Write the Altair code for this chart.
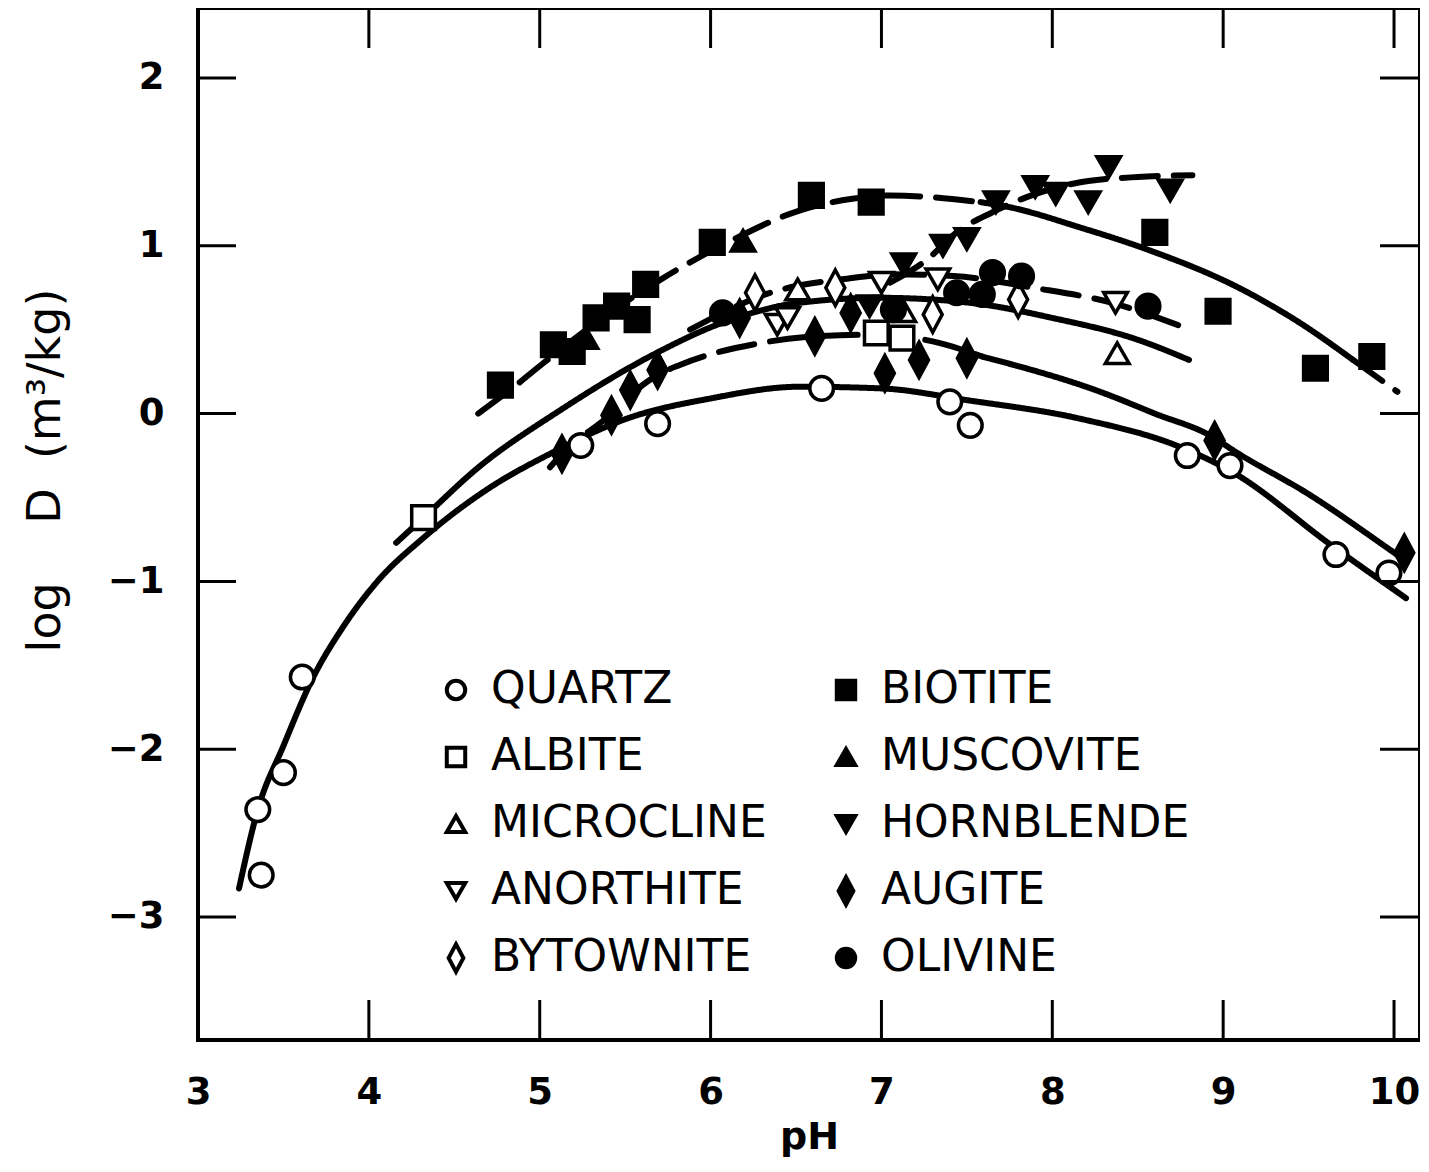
import altair as alt
import pandas as pd

# ---------------- measured points ----------------
quartz_ph = [3.35, 3.37, 3.50, 3.61, 5.24, 5.69, 6.65, 7.40, 7.52, 8.79, 9.04, 9.66, 9.97]
quartz_logd = [-2.36, -2.75, -2.14, -1.57, -0.19, -0.06, 0.15, 0.07, -0.07, -0.25, -0.31, -0.84, -0.95]
biotite_ph = [4.77, 5.08, 5.19, 5.33, 5.45, 5.57, 5.62, 6.01, 6.59, 6.94, 8.60, 8.97, 9.54, 9.87]
biotite_logd = [0.17, 0.41, 0.37, 0.57, 0.64, 0.56, 0.77, 1.02, 1.30, 1.26, 1.08, 0.61, 0.27, 0.34]
albite_ph = [4.32, 6.97, 7.12]
albite_logd = [-0.62, 0.48, 0.45]
muscovite_ph = [5.27, 6.19]
muscovite_logd = [0.45, 1.03]
microcline_ph = [6.51, 7.13, 8.38]
microcline_logd = [0.74, 0.61, 0.36]
hornblende_ph = [6.93, 7.13, 7.36, 7.50, 7.67, 7.90, 8.02, 8.21, 8.33, 8.69]
hornblende_logd = [0.64, 0.89, 1.00, 1.04, 1.26, 1.35, 1.31, 1.26, 1.47, 1.33]
anorthite_ph = [6.39, 6.45, 7.00, 7.33, 8.37]
anorthite_logd = [0.53, 0.57, 0.78, 0.80, 0.66]
augite_ph = [5.13, 5.42, 5.53, 5.69, 6.17, 6.61, 6.82, 7.02, 7.22, 7.50, 8.95, 10.06]
augite_logd = [-0.24, -0.01, 0.14, 0.26, 0.57, 0.46, 0.60, 0.24, 0.32, 0.33, -0.16, -0.83]
bytownite_ph = [6.26, 6.73, 7.30, 7.80]
bytownite_logd = [0.72, 0.75, 0.59, 0.68]
olivine_ph = [6.07, 7.07, 7.44, 7.59, 7.65, 7.82, 8.56]
olivine_logd = [0.60, 0.62, 0.72, 0.71, 0.84, 0.82, 0.64]

# legend order (first column, then second column)
minerals = ["QUARTZ", "ALBITE", "MICROCLINE", "ANORTHITE", "BYTOWNITE",
            "BIOTITE", "MUSCOVITE", "HORNBLENDE", "AUGITE", "OLIVINE"]

# ---------------- fitted curves ----------------
quartz_curve_ph = [3.24, 3.35, 3.50, 3.67, 3.85, 4.05, 4.32, 4.71, 5.06, 5.51, 6.00, 6.52, 7.00, 7.50, 8.16, 8.75, 9.04, 9.64, 10.07]
quartz_curve_logd = [-2.83, -2.36, -1.98, -1.58, -1.27, -1.00, -0.74, -0.44, -0.24, -0.03, 0.09, 0.16, 0.15, 0.08, -0.03, -0.20, -0.34, -0.79, -1.10]
albite_curve_ph = [4.16, 4.32, 4.63, 5.12, 5.70, 6.04, 6.52, 6.99, 7.52, 8.00, 8.50, 8.80]
albite_curve_logd = [-0.77, -0.62, -0.33, 0.02, 0.37, 0.53, 0.66, 0.69, 0.66, 0.57, 0.44, 0.32]
olivine_curve_ph = [5.88, 6.07, 6.32, 6.50, 6.77, 7.06, 7.42, 7.89, 8.35, 8.78]
olivine_curve_logd = [0.50, 0.60, 0.71, 0.76, 0.80, 0.83, 0.82, 0.75, 0.66, 0.51]
augite_curve1_ph = [5.06, 5.13, 5.42, 5.53, 5.69, 5.82, 6.29, 6.61, 6.97, 7.30, 7.59]
augite_curve1_logd = [-0.32, -0.24, 0.00, 0.11, 0.23, 0.29, 0.42, 0.46, 0.47, 0.43, 0.34]
augite_curve2_ph = [7.59, 8.28, 8.60, 8.94, 9.06, 9.50, 9.96, 10.03]
augite_curve2_logd = [0.34, 0.13, 0.00, -0.14, -0.22, -0.48, -0.80, -0.85]
biotite_curve1_ph = [4.64, 4.85, 5.02, 5.30, 5.71, 5.93, 6.10, 6.52, 6.83, 7.05, 7.58]
biotite_curve1_logd = [0.00, 0.16, 0.30, 0.52, 0.80, 0.93, 1.02, 1.21, 1.28, 1.30, 1.26]
biotite_curve2_ph = [7.58, 7.75, 8.16, 8.55, 9.11, 9.45, 9.76]
biotite_curve2_logd = [1.26, 1.23, 1.11, 0.98, 0.74, 0.54, 0.32]
biotite_curve3_ph = [9.76, 10.02]
biotite_curve3_logd = [0.32, 0.13]
hornblende_curve_ph = [7.05, 7.27, 7.44, 7.65, 7.85, 8.12, 8.50, 8.82]
hornblende_curve_logd = [0.78, 0.92, 1.08, 1.20, 1.29, 1.37, 1.41, 1.42]

x_ticks = [4, 5, 6, 7, 8, 9, 10]
y_ticks = [-3, -2, -1, 0, 1, 2]
x_labels = [3, 4, 5, 6, 7, 8, 9, 10]

# ---------------- tables ----------------
series = [
    ("QUARTZ", quartz_ph, quartz_logd), ("BIOTITE", biotite_ph, biotite_logd),
    ("ALBITE", albite_ph, albite_logd), ("MUSCOVITE", muscovite_ph, muscovite_logd),
    ("MICROCLINE", microcline_ph, microcline_logd), ("HORNBLENDE", hornblende_ph, hornblende_logd),
    ("ANORTHITE", anorthite_ph, anorthite_logd), ("AUGITE", augite_ph, augite_logd),
    ("BYTOWNITE", bytownite_ph, bytownite_logd), ("OLIVINE", olivine_ph, olivine_logd),
]
pts = pd.DataFrame([{"mineral": m, "ph": a, "logd": b}
                    for m, xs, ys in series for a, b in zip(xs, ys)])

curves = [
    ("quartz", "solid", quartz_curve_ph, quartz_curve_logd),
    ("albite", "solid", albite_curve_ph, albite_curve_logd),
    ("olivine", "dashed", olivine_curve_ph, olivine_curve_logd),
    ("augite1", "dashed", augite_curve1_ph, augite_curve1_logd),
    ("augite2", "solid", augite_curve2_ph, augite_curve2_logd),
    ("biotite1", "dashed", biotite_curve1_ph, biotite_curve1_logd),
    ("biotite2", "solid", biotite_curve2_ph, biotite_curve2_logd),
    ("biotite3", "dashed", biotite_curve3_ph, biotite_curve3_logd),
    ("hornblende", "dashed", hornblende_curve_ph, hornblende_curve_logd),
]
lines = pd.DataFrame([{"curve": c, "style": s, "ph": a, "logd": b, "order": i}
                      for c, s, xs, ys in curves for i, (a, b) in enumerate(zip(xs, ys))])

W, H = 1222, 1032
xscale = alt.Scale(domain=[3, 10.152], nice=False, zero=False)
yscale = alt.Scale(domain=[-3.733, 2.417], nice=False, zero=False)

diamond = "M0,-1.5L0.8,0L0,1.5L-0.8,0Z"
shape_of = {"QUARTZ": "circle", "ALBITE": "square", "MICROCLINE": "triangle-up",
            "ANORTHITE": "triangle-down", "BYTOWNITE": diamond, "BIOTITE": "square",
            "MUSCOVITE": "triangle-up", "HORNBLENDE": "triangle-down", "AUGITE": diamond,
            "OLIVINE": "circle"}
open_minerals = ["QUARTZ", "ALBITE", "MICROCLINE", "ANORTHITE", "BYTOWNITE"]
shapes = [shape_of[m] for m in minerals]
fills = ["white" if m in open_minerals else "black" for m in minerals]
strokes = ["black"] * len(minerals)

FONT = "DejaVu Sans"
NB = "\u00a0"

x_axis = alt.Axis(values=x_labels, format="d", ticks=False, domain=False, grid=False,
                  labelFont=FONT, labelFontSize=37, labelFontWeight="bold", labelColor="black",
                  labelPadding=34, labelFlush=False,
                  title="pH", titleFont=FONT, titleFontSize=38, titleFontWeight="bold",
                  titleColor="black", titlePadding=8)
y_axis = alt.Axis(values=y_ticks, ticks=False, domain=False, grid=False,
                  labelExpr="datum.value < 0 ? '\u2212' + (-datum.value) : '' + datum.value",
                  labelFont=FONT, labelFontSize=37, labelFontWeight="bold", labelColor="black",
                  labelPadding=34, labelFlush=False,
                  title="log" + NB * 4 + "D" + NB * 2 + "(m\u00b3/kg)", titleFont=FONT, titleFontSize=46,
                  titleFontWeight="normal", titleColor="black",
                  titleX=-153, titleY=462, titleAlign="center", titleBaseline="middle", titleAngle=270)

X = alt.X("ph:Q", scale=xscale, axis=x_axis)
Y = alt.Y("logd:Q", scale=yscale, axis=y_axis)
XV = alt.X("v:Q", scale=xscale, axis=x_axis)
YV = alt.Y("v:Q", scale=yscale, axis=y_axis)

legend = alt.Legend(title=None, orient="none", legendX=236, legendY=660, columns=2,
                    labelFont=FONT, labelFontSize=44, labelColor="black", labelLimit=500,
                    symbolSize=340, symbolStrokeWidth=4, symbolStrokeColor="black",
                    labelOffset=13, rowPadding=23, columnPadding=57)

point_layer = alt.Chart(pts).mark_point(filled=False, strokeWidth=3.5,
                                        opacity=1, size=560).encode(
    x=X, y=Y,
    shape=alt.Shape("mineral:N", scale=alt.Scale(domain=minerals, range=shapes), legend=legend),
    fill=alt.Fill("mineral:N", scale=alt.Scale(domain=minerals, range=fills), legend=legend),
    stroke=alt.Stroke("mineral:N", scale=alt.Scale(domain=minerals, range=strokes), legend=legend),
)

line_layer = alt.Chart(lines).mark_line(color="black", strokeWidth=6, strokeCap="round",
                                        interpolate="monotone").encode(
    x=X, y=Y,
    detail="curve:N",
    order="order:Q",
    strokeDash=alt.StrokeDash("style:N", scale=alt.Scale(domain=["solid", "dashed"],
                                                          range=[[1, 0], [36, 16]]), legend=None),
)

xt = pd.DataFrame({"v": x_ticks})
yt = pd.DataFrame({"v": y_ticks})
tick_style = dict(color="black", strokeWidth=3)
top_ticks = alt.Chart(xt).mark_rule(**tick_style).encode(x=XV, y=alt.value(0), y2=alt.value(40))
bottom_ticks = alt.Chart(xt).mark_rule(**tick_style).encode(x=XV, y=alt.value(H - 40), y2=alt.value(H))
left_ticks = alt.Chart(yt).mark_rule(**tick_style).encode(y=YV, x=alt.value(0), x2=alt.value(38))
right_ticks = alt.Chart(yt).mark_rule(**tick_style).encode(y=YV, x=alt.value(W - 40), x2=alt.value(W))

chart = alt.layer(line_layer, point_layer, top_ticks, bottom_ticks, left_ticks, right_ticks).properties(
    width=W, height=H,
    autosize=alt.AutoSizeParams(type="none"),
    padding={"left": 190, "top": 0, "right": 0, "bottom": 118},
    background="white",
).configure_view(stroke="black", strokeWidth=4)

chart.save("out.html", embed_options={"renderer": "svg", "actions": False})
